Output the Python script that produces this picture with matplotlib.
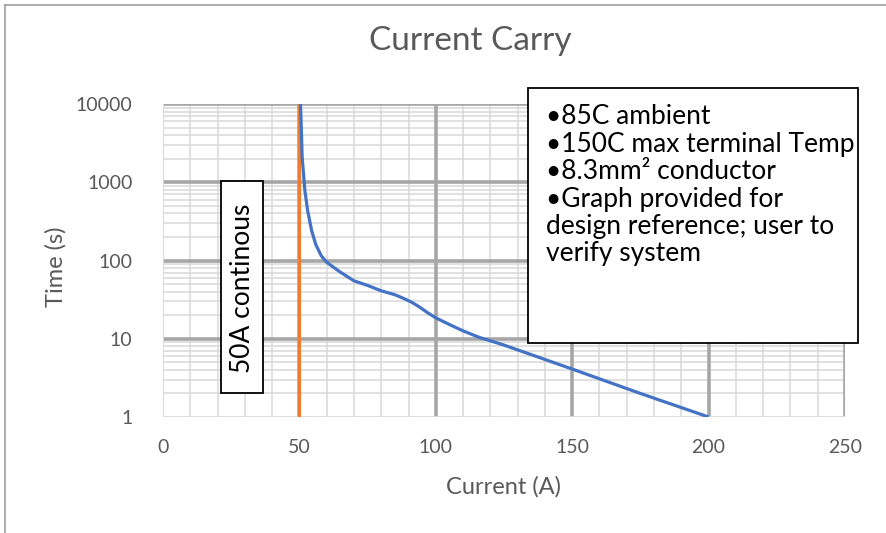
import matplotlib
matplotlib.use("Agg")
import matplotlib.pyplot as plt
from matplotlib.patches import Rectangle
from matplotlib.lines import Line2D
import numpy as np

plt.rcParams["font.family"] = ["Lato", "DejaVu Sans"]

# Data
current = [50.4, 50.7, 51, 52, 53, 54.5, 56, 58, 60, 65, 70, 75, 80, 85, 88,
           91, 94, 97, 100, 105, 110, 116, 125, 150, 175, 200]
time_s = [10000, 5000, 2100, 790, 437, 240, 160, 115, 95, 71, 55, 48, 41, 36.5, 33,
          29.5, 25.5, 21.5, 18.5, 15.2, 12.6, 10.4, 8.3, 4.1, 2.0, 1.0]
limit_x = [50, 50]
limit_y = [1, 10000]

x_major = [0, 50, 100, 150, 200, 250]
y_major = [1, 10, 100, 1000, 10000]

notes = ["\u202285C ambient", "\u2022150C max terminal Temp", "\u20228.3mm\u00b2 conductor",
         "\u2022Graph provided for", "design reference; user to", "verify system"]

W, H = 887, 533
fig = plt.figure(figsize=(W / 100, H / 100), dpi=100)


def fx(px):
    return px / W


def fy(py):
    return 1 - py / H


ax = fig.add_axes([fx(163), fy(417), fx(845) - fx(163), fy(104) - fy(417)])
ax.set_yscale("log")
ax.set_xlim(0, 250)
ax.set_ylim(1, 10000)

# grid lines (Excel style: minor thin light, major thick grey)
for x in np.arange(0, 251, 10):
    ax.axvline(x, color="#D9D9D9", lw=1.1, zorder=0)
for d in y_major[:-1]:
    for m in range(2, 10):
        ax.axhline(d * m, color="#D9D9D9", lw=1.1, zorder=0)
for x in x_major[1:]:
    ax.axvline(x, color="#A6A6A6", lw=2.6, zorder=1)
for y in y_major[1:]:
    ax.axhline(y, color="#A6A6A6", lw=2.6, zorder=1)

for s in ax.spines.values():
    s.set_visible(False)
ax.axvline(0, color="#D9D9D9", lw=1.3, zorder=1)
ax.axhline(1, color="#D9D9D9", lw=1.3, zorder=1)

ax.plot(current, time_s, color="#4472C4", lw=2.3, zorder=4, solid_capstyle="butt",
        solid_joinstyle="round")
ax.plot(limit_x, limit_y, color="#ED7D31", lw=2.3, zorder=3, solid_capstyle="butt")

ax.set_xticks(x_major)
ax.set_yticks(y_major)
ax.set_yticklabels([str(v) for v in y_major])
ax.minorticks_off()
ax.tick_params(length=0, labelsize=14, labelcolor="#595959")
ax.tick_params(axis="y", pad=22)
ax.tick_params(axis="x", pad=16)

fig.text(fx(504), fy(487), "Current (A)", fontsize=17, color="#595959", ha="center", va="center")
fig.text(fx(56), fy(267), "Time (s)", fontsize=17, color="#595959", ha="center", va="center", rotation=90)
fig.text(fx(470), fy(41), "Current Carry", fontsize=24, color="#595959", ha="center", va="center")

# chart area border
fig.add_artist(Line2D([fx(5), 1], [fy(5), fy(5)], color="#9E9E9E", lw=1.2))
fig.add_artist(Line2D([fx(5), fx(5)], [fy(5), 0], color="#9E9E9E", lw=1.2))

# "50A continous" box
fig.add_artist(Rectangle((fx(221), fy(393)), fx(263) - fx(221), fy(181) - fy(393),
                         facecolor="white", edgecolor="black", lw=1.3, zorder=5))
fig.text(fx(243), fy(288), "50A continous", fontsize=19, color="black", rotation=90,
         ha="center", va="center", zorder=6)

# notes box
fig.add_artist(Rectangle((fx(528), fy(343)), fx(858) - fx(528), fy(88) - fy(343),
                         facecolor="white", edgecolor="black", lw=1.3, zorder=5))
for i, line in enumerate(notes):
    fig.text(fx(546), fy(117 + i * 27.4), line, fontsize=19, color="black",
             ha="left", va="center", zorder=6)

fig.savefig("out.png", dpi=100)
